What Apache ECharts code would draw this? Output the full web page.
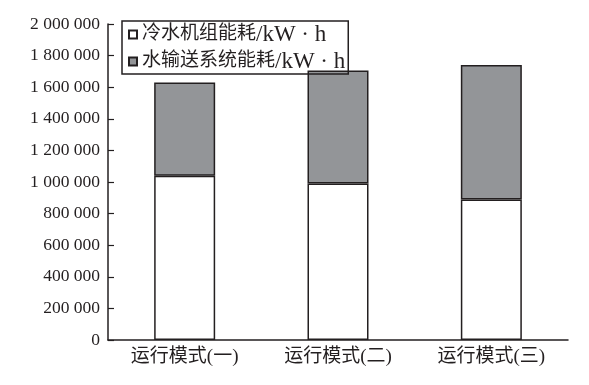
<!DOCTYPE html>
<html>
<head>
<meta charset="utf-8">
<script src="https://cdn.jsdelivr.net/npm/echarts@6/dist/echarts.min.js"></script>
<style>html,body{margin:0;padding:0;background:#fff;}#c{width:589px;height:385px;}</style>
</head>
<body>
<div id="c"></div>
<script>
var categories = ['运行模式(一)', '运行模式(二)', '运行模式(三)'];
var seriesNames = ['冷水机组能耗/kW · h', '水输送系统能耗/kW · h'];
var chillerEnergy = [1040000, 990000, 890000];
var pumpEnergy = [590000, 715000, 850000];
var yMin = 0, yMax = 2000000, yInterval = 200000;

var ink = '#231f20';
var latin = '"Liberation Serif", "Noto Sans CJK SC", serif';
function fmt(v) {
  return String(v).replace(/\B(?=(\d{3})+(?!\d))/g, ' ');
}
function legendFmt(name) {
  var i = name.indexOf('/');
  return '{c|' + name.slice(0, i) + '}{l|' + name.slice(i) + '}';
}
var chart = echarts.init(document.getElementById('c'), null, {renderer: 'canvas'});
chart.setOption({
  animation: false,
  backgroundColor: '#fff',
  grid: {left: 108, right: 21, top: 24, bottom: 45, containLabel: false},
  legend: {
    orient: 'vertical',
    left: 122, top: 21,
    padding: [2, 3, 1, 6],
    borderColor: ink, borderWidth: 1.5,
    itemWidth: 8, itemHeight: 8, itemGap: 4,
    icon: 'rect',
    formatter: legendFmt,
    textStyle: {
      fontFamily: latin, fontSize: 18, color: ink, lineHeight: 20,
      rich: {
        c: {fontFamily: latin, fontSize: 19, color: ink, lineHeight: 20},
        l: {fontFamily: latin, fontSize: 23, color: ink, lineHeight: 20}
      }
    },
    data: seriesNames
  },
  xAxis: {
    type: 'category',
    data: categories,
    axisLine: {lineStyle: {color: ink, width: 1.5}},
    axisTick: {inside: true, length: 5, lineStyle: {color: ink, width: 1.2}},
    axisLabel: {fontFamily: latin, fontSize: 19, color: ink, margin: 8}
  },
  yAxis: {
    type: 'value',
    min: yMin, max: yMax, interval: yInterval,
    splitLine: {show: false},
    axisLine: {show: true, lineStyle: {color: ink, width: 1.5}},
    axisTick: {show: true, inside: true, length: 6, lineStyle: {color: ink, width: 1.2}},
    axisLabel: {fontFamily: latin, fontSize: 17.5, color: ink, margin: 8, formatter: fmt}
  },
  series: [
    {
      name: seriesNames[0], type: 'bar', stack: 'total', barWidth: 61,
      data: chillerEnergy,
      itemStyle: {color: '#ffffff', borderColor: ink, borderWidth: 1.5}
    },
    {
      name: seriesNames[1], type: 'bar', stack: 'total', barWidth: 61,
      data: pumpEnergy,
      itemStyle: {color: '#939598', borderColor: ink, borderWidth: 1.5}
    }
  ]
});
</script>
</body>
</html>
